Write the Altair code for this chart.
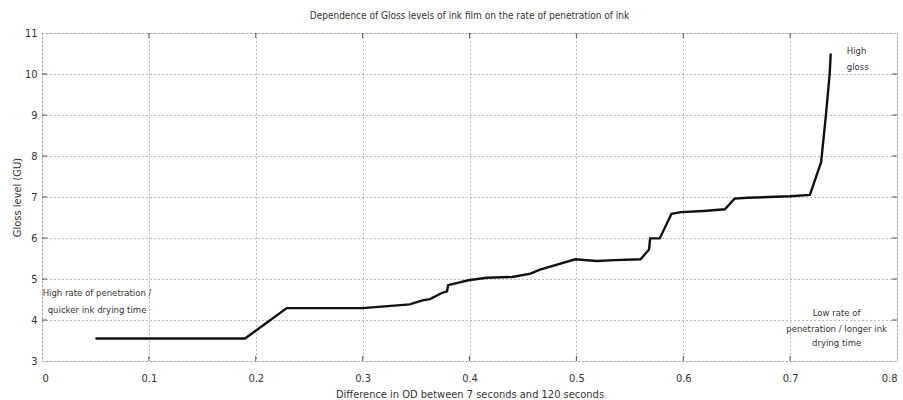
import altair as alt
import pandas as pd

# Measured curve: OD difference (7 s vs 120 s) against gloss level
od_diff = [0.05, 0.19, 0.229, 0.30, 0.344, 0.356, 0.363, 0.375, 0.379, 0.38,
           0.399, 0.416, 0.44, 0.457, 0.466, 0.499, 0.519, 0.536, 0.56, 0.568,
           0.569, 0.578, 0.589, 0.598, 0.619, 0.639, 0.648, 0.66, 0.68, 0.70,
           0.7185, 0.729, 0.7335, 0.737, 0.738]
gloss = [3.55, 3.55, 4.29, 4.29, 4.38, 4.48, 4.51, 4.67, 4.70, 4.85,
         4.97, 5.03, 5.05, 5.13, 5.23, 5.48, 5.44, 5.46, 5.48, 5.72,
         5.99, 5.99, 6.59, 6.63, 6.66, 6.70, 6.96, 6.98, 7.00, 7.02,
         7.05, 7.85, 9.0, 10.0, 10.5]

x_ticks = [0, 0.1, 0.2, 0.3, 0.4, 0.5, 0.6, 0.7, 0.8]
y_ticks = [3, 4, 5, 6, 7, 8, 9, 10, 11]

# Annotation lines (text, x, y, alignment)
note_text = ["High rate of penetration /", "quicker ink drying time",
             "High", "gloss",
             "Low rate of", "penetration / longer ink", "drying time"]
note_x = [0.0515, 0.0515, 0.753, 0.753, 0.7435, 0.7435, 0.7435]
note_y = [4.65, 4.24, 10.55, 10.18, 4.16, 3.77, 3.43]
note_align = ["center", "center", "left", "left", "center", "center", "center"]

FONT = "DejaVu Sans Condensed, Liberation Sans Narrow, Liberation Sans, sans-serif"
TXT = "#333333"
W, H = 855, 328

curve = pd.DataFrame({"od": od_diff, "gloss": gloss})
notes = pd.DataFrame({"t": note_text, "x": note_x, "y": note_y, "a": note_align})
xt = pd.DataFrame({"v": x_ticks[1:-1]})
yt = pd.DataFrame({"v": y_ticks[1:-1]})

x_scale = alt.Scale(domain=[0, 0.8], nice=False, zero=False)
y_scale = alt.Scale(domain=[3, 11], nice=False, zero=False)

grid_style = dict(grid=True, gridColor="#777777", gridDash=[1, 3], gridWidth=1,
                  gridOpacity=1, domain=False, ticks=False,
                  labelFont=FONT, labelFontSize=11, labelColor=TXT,
                  titleFont=FONT, titleFontSize=11, titleColor=TXT,
                  titleFontWeight="normal")

line = alt.Chart(curve).mark_line(color="#111111", strokeWidth=2.4).encode(
    x=alt.X("od:Q", scale=x_scale,
            axis=alt.Axis(values=x_ticks, format="~g",
                          title="Difference in OD between 7 seconds and 120 seconds",
                          labelPadding=11, titlePadding=5, **grid_style)),
    y=alt.Y("gloss:Q", scale=y_scale,
            axis=alt.Axis(values=y_ticks, format="d",
                          title="Gloss level (GU)", labelPadding=5,
                          titlePadding=2, **grid_style)),
)

# Inward-pointing tick marks on all four sides of the frame
tick_style = dict(color="#555555", strokeWidth=1)
xt_bottom = alt.Chart(xt).mark_rule(**tick_style).encode(
    x=alt.X("v:Q", scale=x_scale), y=alt.value(H), y2=alt.value(H - 5))
xt_top = alt.Chart(xt).mark_rule(**tick_style).encode(
    x=alt.X("v:Q", scale=x_scale), y=alt.value(0), y2=alt.value(5))
yt_left = alt.Chart(yt).mark_rule(**tick_style).encode(
    y=alt.Y("v:Q", scale=y_scale), x=alt.value(0), x2=alt.value(5))
yt_right = alt.Chart(yt).mark_rule(**tick_style).encode(
    y=alt.Y("v:Q", scale=y_scale), x=alt.value(W), x2=alt.value(W - 5))

text_layers = []
for al in ["left", "center"]:
    text_layers.append(
        alt.Chart(notes[notes["a"] == al]).mark_text(
            font=FONT, fontSize=9.5, color=TXT, align=al, baseline="middle"
        ).encode(x=alt.X("x:Q", scale=x_scale), y=alt.Y("y:Q", scale=y_scale), text="t:N")
    )

chart = alt.layer(line, xt_bottom, xt_top, yt_left, yt_right, *text_layers).properties(
    width=W, height=H,
    title=alt.Title("Dependence of Gloss levels of ink film on the rate of penetration of ink",
                    font=FONT, fontSize=10, fontWeight="normal", color=TXT,
                    anchor="middle", offset=6),
    autosize=alt.AutoSizeParams(type="none"),
    padding={"left": 42, "top": 33, "right": 6, "bottom": 39},
).configure_view(
    stroke="#999999", strokeWidth=2
).configure(background="white")

chart.save("out.html", embed_options={"renderer": "svg", "actions": False})
